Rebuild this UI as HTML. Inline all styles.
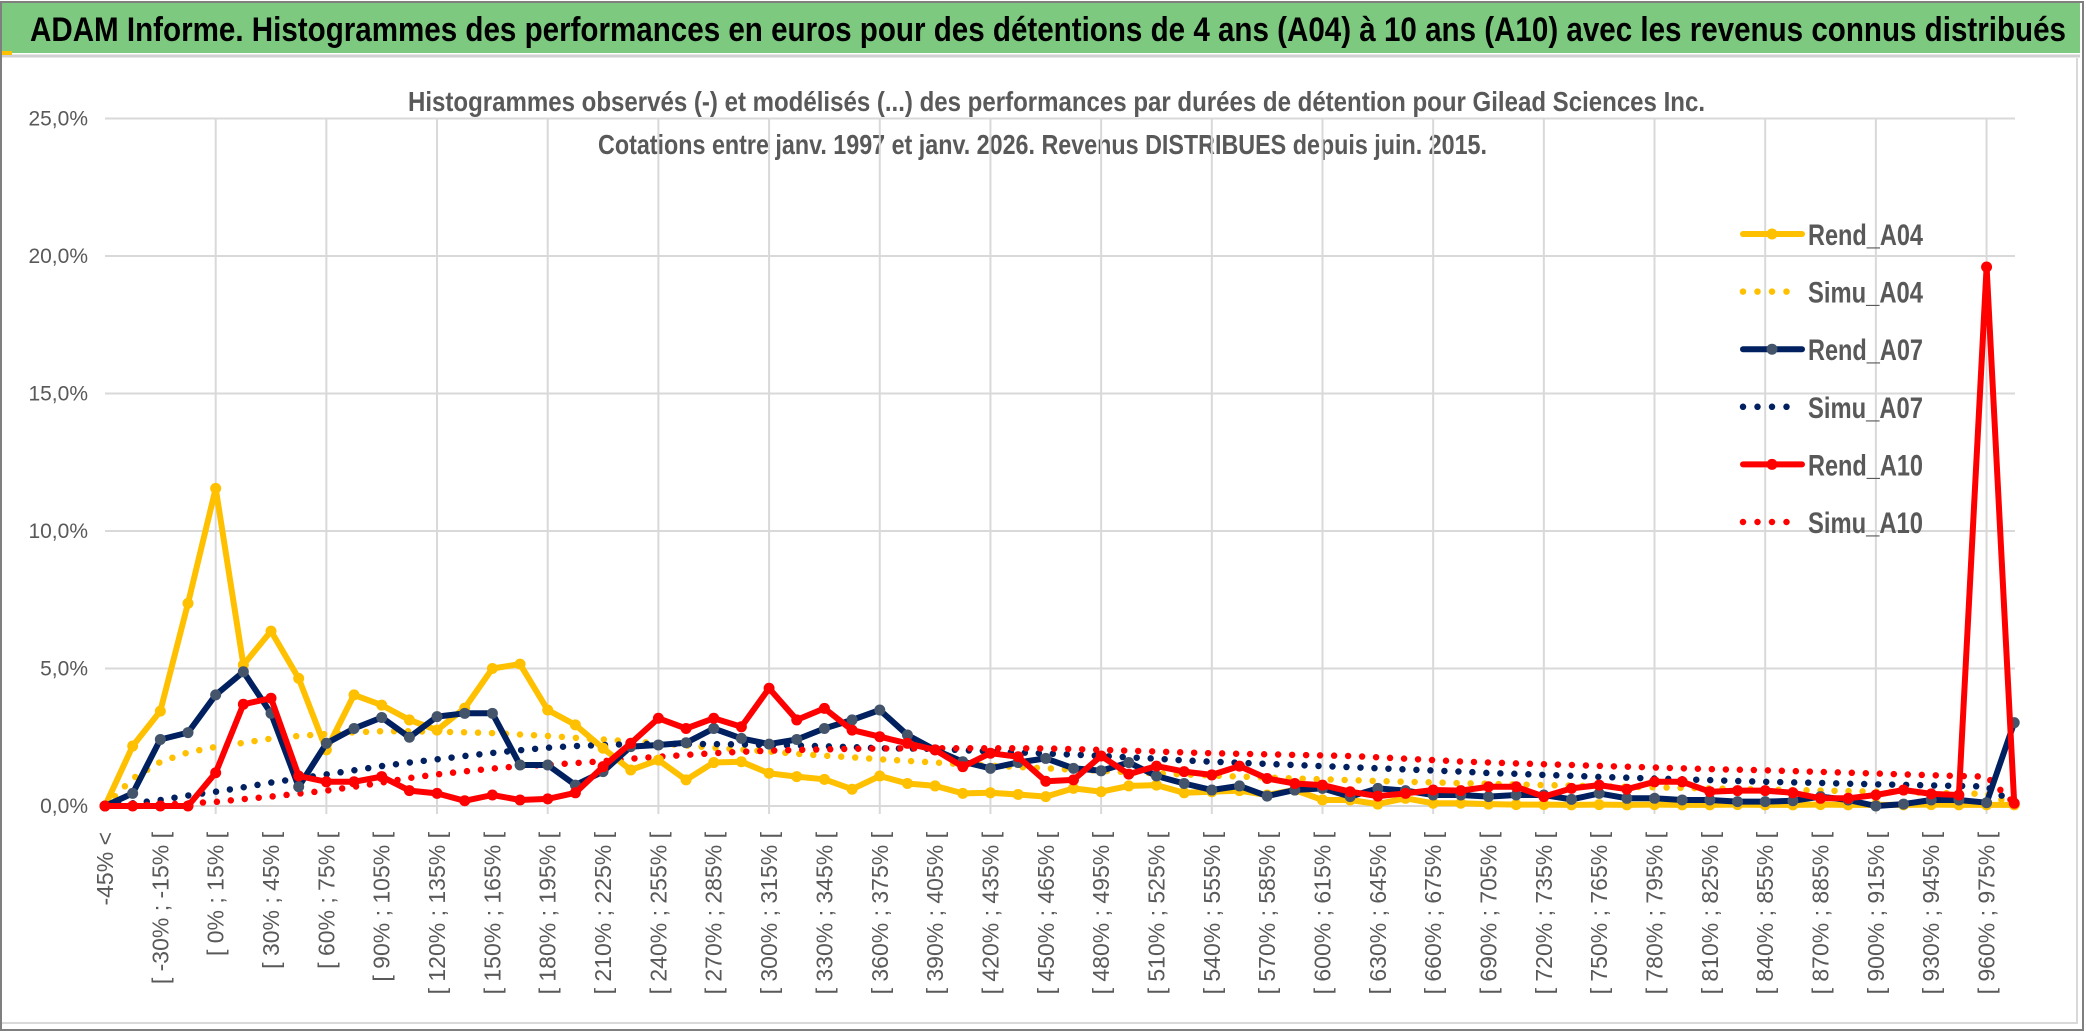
<!DOCTYPE html>
<html><head><meta charset="utf-8"><style>
html,body{margin:0;padding:0;background:#fff;}
svg{display:block;}
text{font-family:"Liberation Sans Narrow","Liberation Sans",sans-serif;}
</style></head><body>
<svg id="chart" width="2086" height="1033" viewBox="0 0 2086 1033" xmlns="http://www.w3.org/2000/svg">
<rect x="0" y="0" width="2086" height="1033" fill="#fff"/>
<rect x="1" y="2" width="2082" height="1028" fill="none" stroke="#7f7f7f" stroke-width="2"/>
<rect x="2" y="3" width="2078" height="50" fill="#7DC97F"/>
<line x1="2" y1="56" x2="2080" y2="56" stroke="#d0d0d0" stroke-width="3"/>
<rect x="2" y="51" width="10" height="4" fill="#FFC000"/>
<text x="30" y="41" font-size="34" font-weight="bold" fill="#000" textLength="2036" lengthAdjust="spacingAndGlyphs">ADAM Informe. Histogrammes des performances en euros pour des détentions de 4 ans (A04) à 10 ans (A10) avec les revenus connus distribués</text>
<line x1="2077" y1="58" x2="2077" y2="1023" stroke="#d9d9d9" stroke-width="2"/>
<line x1="2" y1="1023" x2="2078" y2="1023" stroke="#d9d9d9" stroke-width="2"/>
<text x="408" y="111" font-size="28" font-weight="bold" fill="#595959" textLength="1297" lengthAdjust="spacingAndGlyphs">Histogrammes observés (-) et modélisés (...) des performances par durées de détention pour Gilead Sciences Inc.</text>
<text x="598" y="154" font-size="28" font-weight="bold" fill="#595959" textLength="889" lengthAdjust="spacingAndGlyphs">Cotations entre janv. 1997 et janv. 2026. Revenus DISTRIBUES depuis juin. 2015.</text>
<g id="grid"></g>
<g id="series"></g>
<g id="legend"></g>
<g id="xlabels"></g>
</svg>
<script>
const categories = [];
for (let k = 0; k < 70; k++) {
  if (k === 0) categories.push('-45% <');
  else { const a = -45 + 15 * (k - 1); categories.push('[ ' + a + '% ; ' + (a + 15) + '% ['); }
}
const yTicks = [0, 5, 10, 15, 20, 25];
const yTickLabels = ['0,0%', '5,0%', '10,0%', '15,0%', '20,0%', '25,0%'];
const rendA04 = [0,2.18,3.45,7.37,11.55,5.13,6.36,4.64,2.04,4.04,3.67,3.13,2.76,3.56,5.0,5.16,3.49,2.95,2.1,1.31,1.67,0.95,1.58,1.61,1.19,1.07,0.97,0.61,1.09,0.82,0.73,0.46,0.48,0.42,0.34,0.64,0.52,0.73,0.76,0.48,0.52,0.56,0.4,0.58,0.22,0.22,0.07,0.28,0.1,0.1,0.07,0.05,0.05,0.04,0.05,0.04,0.05,0.04,0.04,0.05,0.04,0.04,0.05,0.04,0.04,0.04,0.05,0.04,0.04,0.04];
const rendA07 = [0,0.46,2.42,2.67,4.04,4.88,3.37,0.7,2.28,2.82,3.22,2.5,3.25,3.37,3.37,1.49,1.49,0.76,1.25,2.16,2.22,2.3,2.82,2.46,2.25,2.42,2.82,3.13,3.49,2.58,2.04,1.61,1.37,1.58,1.73,1.37,1.28,1.58,1.09,0.82,0.58,0.73,0.36,0.58,0.64,0.34,0.64,0.56,0.4,0.4,0.34,0.4,0.4,0.24,0.46,0.28,0.28,0.22,0.22,0.16,0.16,0.19,0.34,0.22,0,0.07,0.22,0.22,0.12,3.03];
const rendA10 = [0,0,0,0,1.21,3.7,3.92,1.09,0.88,0.88,1.07,0.56,0.46,0.19,0.4,0.22,0.26,0.48,1.43,2.28,3.19,2.82,3.19,2.88,4.28,3.13,3.55,2.76,2.52,2.28,2.04,1.43,1.92,1.79,0.9,0.95,1.82,1.16,1.45,1.25,1.13,1.45,1.0,0.82,0.76,0.52,0.36,0.46,0.58,0.56,0.7,0.7,0.34,0.64,0.76,0.61,0.88,0.88,0.52,0.56,0.56,0.48,0.28,0.28,0.4,0.58,0.44,0.4,19.6,0.1];
const simuA04 = [0,1.0,1.6,1.95,2.15,2.3,2.45,2.55,2.62,2.68,2.72,2.72,2.7,2.68,2.65,2.6,2.55,2.48,2.42,2.35,2.28,2.2,2.12,2.05,1.98,1.9,1.83,1.77,1.7,1.64,1.58,1.52,1.47,1.42,1.37,1.32,1.28,1.23,1.19,1.15,1.11,1.07,1.04,1.0,0.97,0.94,0.91,0.88,0.86,0.83,0.81,0.78,0.76,0.74,0.72,0.7,0.68,0.66,0.64,0.62,0.6,0.58,0.56,0.54,0.52,0.5,0.48,0.46,0.44,0.05];
const simuA07 = [0,0.1,0.22,0.38,0.52,0.68,0.85,1.0,1.15,1.3,1.45,1.58,1.7,1.82,1.93,2.03,2.12,2.18,2.22,2.25,2.26,2.26,2.25,2.24,2.22,2.2,2.17,2.14,2.1,2.09,2.08,2.03,1.99,1.95,1.91,1.87,1.82,1.77,1.72,1.66,1.61,1.57,1.53,1.49,1.45,1.41,1.37,1.33,1.29,1.25,1.2,1.17,1.13,1.1,1.06,1.03,1.0,0.97,0.94,0.91,0.88,0.86,0.84,0.81,0.79,0.77,0.75,0.73,0.71,0.1];
const simuA10 = [0,0.02,0.05,0.1,0.15,0.25,0.34,0.45,0.56,0.7,0.85,1.02,1.15,1.26,1.36,1.45,1.5,1.56,1.63,1.72,1.79,1.86,1.92,1.97,2.01,2.04,2.06,2.08,2.09,2.1,2.1,2.1,2.1,2.1,2.09,2.07,2.04,2.01,1.98,1.95,1.92,1.9,1.88,1.86,1.84,1.82,1.77,1.72,1.67,1.62,1.58,1.55,1.52,1.49,1.46,1.43,1.4,1.37,1.34,1.32,1.3,1.27,1.24,1.21,1.18,1.15,1.12,1.09,1.07,0.1];

const NS = 'http://www.w3.org/2000/svg';
const X0 = 105, DX = 27.67, Y0 = 806, PXPCT = 27.5, XEND = 2015;
const xPos = i => X0 + i * DX;
const yPos = v => Y0 - v * PXPCT;
function mk(tag, attrs, parent) {
  const e = document.createElementNS(NS, tag);
  for (const k in attrs) e.setAttribute(k, attrs[k]);
  parent.appendChild(e);
  return e;
}
const grid = document.getElementById('grid');
yTicks.forEach((t, j) => {
  const gl = mk('line', {x1: X0, x2: XEND, y1: yPos(t), y2: yPos(t), stroke: '#d9d9d9', 'stroke-width': 2}, grid);
  
  
  const tl = mk('text', {x: 88, y: yPos(t) + 7, 'font-size': 21, fill: '#595959', 'text-anchor': 'end'}, grid);
  tl.textContent = yTickLabels[j];
  
  
});
for (let i = 4; i < categories.length; i += 4) {
  const vl = mk('line', {x1: xPos(i), x2: xPos(i), y1: yPos(25), y2: Y0 + 8, stroke: '#d9d9d9', 'stroke-width': 2}, grid);
  
  
}
const xl = document.getElementById('xlabels');
categories.forEach((c, i) => {
  if (i % 2) return;
  const x = xPos(i) + 8;
  const t = mk('text', {x: x, y: 832, 'font-size': 23, fill: '#595959', 'text-anchor': 'end', transform: 'rotate(-90 ' + x + ' 832)', style: 'font-family:"Liberation Sans",sans-serif'}, xl);
  t.textContent = c;
  
  
});
const ser = document.getElementById('series');
function pts(arr) { return arr.map((v, i) => xPos(i).toFixed(1) + ',' + yPos(v).toFixed(1)).join(' '); }
function dotted(arr, color, name) {
  const p = mk('polyline', {points: pts(arr), fill: 'none', stroke: color, 'stroke-width': 6.5, 'stroke-linecap': 'round', 'stroke-dasharray': '0 14'}, ser);
  
  
}
function solid(arr, color, mcolor, name) {
  const g = mk('g', {}, ser);
  
  
  mk('polyline', {points: pts(arr), fill: 'none', stroke: color, 'stroke-width': 6, 'stroke-linejoin': 'round'}, g);
  arr.forEach((v, i) => {
    const m = mk('circle', {cx: xPos(i), cy: yPos(v), r: 5.5, fill: mcolor}, g);
    
    
  });
}
dotted(simuA04, '#FFC000', 'simu-a04-line');
dotted(simuA07, '#002060', 'simu-a07-line');
dotted(simuA10, '#FF0000', 'simu-a10-line');
solid(rendA04, '#FFC000', '#FFC000', 'rend-a04-line');
solid(rendA07, '#002060', '#44546A', 'rend-a07-line');
solid(rendA10, '#FF0000', '#FF0000', 'rend-a10-line');

const legendNames = ['Rend_A04', 'Simu_A04', 'Rend_A07', 'Simu_A07', 'Rend_A10', 'Simu_A10'];
const legendColors = ['#FFC000', '#FFC000', '#002060', '#002060', '#FF0000', '#FF0000'];
const legendMarker = ['#FFC000', null, '#44546A', null, '#FF0000', null];
const lg = document.getElementById('legend');
legendNames.forEach((n, j) => {
  const y = 234 + j * 57.6;
  const g = mk('g', {}, lg);
  
  
  if (legendMarker[j]) {
    mk('line', {x1: 1743, x2: 1802, y1: y, y2: y, stroke: legendColors[j], 'stroke-width': 6, 'stroke-linecap': 'round'}, g);
    mk('circle', {cx: 1772, cy: y, r: 5.5, fill: legendMarker[j]}, g);
  } else {
    mk('line', {x1: 1743, x2: 1800, y1: y, y2: y, stroke: legendColors[j], 'stroke-width': 6.5, 'stroke-linecap': 'round', 'stroke-dasharray': '0 14.5'}, g);
  }
  const t = mk('text', {x: 1808, y: y + 11, 'font-size': 30, 'font-weight': 'bold', fill: '#595959', textLength: 115, lengthAdjust: 'spacingAndGlyphs'}, g);
  t.textContent = n;
});
</script>
</body></html>
